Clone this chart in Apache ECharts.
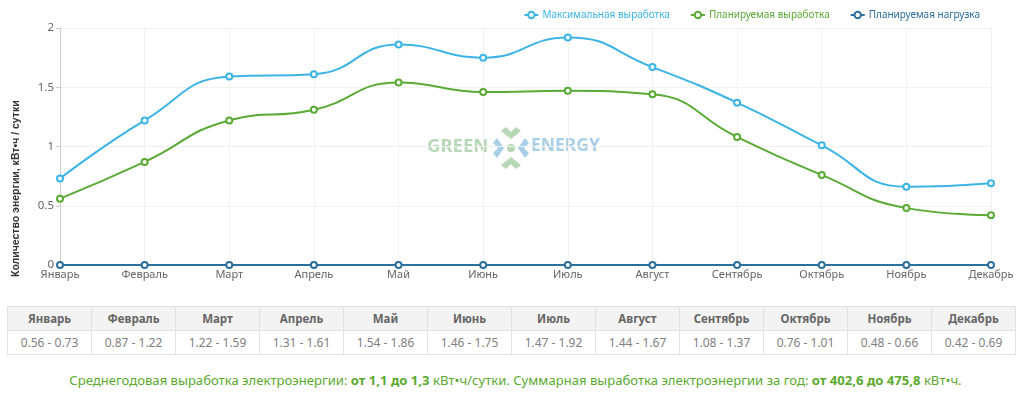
<!DOCTYPE html>
<html><head><meta charset="utf-8">
<script src="https://cdn.jsdelivr.net/npm/echarts@6/dist/echarts.min.js"></script>
<style>
html,body{margin:0;padding:0;background:#fff;width:1023px;height:395px;overflow:hidden;font-family:"Noto Sans",sans-serif;}
#chart{position:absolute;left:0;top:0;width:1023px;height:300px;}
#tbl{position:absolute;left:7px;top:306px;width:1009px;border-collapse:collapse;table-layout:fixed;}
#tbl td{border:1px solid #e2e2e2;text-align:center;font-size:12px;height:23px;padding:0;color:#808080;}
#tbl tr.h td{background:#f3f3f3;font-weight:bold;color:#666;font-size:11.5px;}
#note{position:absolute;left:4px;top:371px;width:1023px;text-align:center;color:#5aaa2e;font-size:13.1px;font-family:"Noto Sans",sans-serif;}
</style></head>
<body>
<div id="chart"></div>
<table id="tbl"></table>
<div id="note"></div>
<script>
const months = ["Январь","Февраль","Март","Апрель","Май","Июнь","Июль","Август","Сентябрь","Октябрь","Ноябрь","Декабрь"];
const maxOutput = [0.73,1.22,1.59,1.61,1.86,1.75,1.92,1.67,1.37,1.01,0.66,0.69];
const plannedOutput = [0.56,0.87,1.22,1.31,1.54,1.46,1.47,1.44,1.08,0.76,0.48,0.42];
const plannedLoad = [0,0,0,0,0,0,0,0,0,0,0,0];
const seriesNames = ["Максимальная выработка","Планируемая выработка","Планируемая нагрузка"];
const yTicks = [0,0.5,1,1.5,2];
const yAxisTitle = "Количество энергии, кВт•ч / сутки";
const noteText = "Среднегодовая выработка электроэнергии: <b>от 1,1 до 1,3</b> кВт•ч/сутки. Суммарная выработка электроэнергии за год: <b>от 402,6 до 475,8</b> кВт•ч.";

const colors = ["#3cb4e6","#5aaa36","#2d6f9c"];
const chart = echarts.init(document.getElementById('chart'));
const mk = (name, data, c) => ({
  name, type:'line', data, smooth:true, symbol:'emptyCircle', symbolSize:6,
  lineStyle:{width:2,color:c}, itemStyle:{color:c,borderWidth:2}, emphasis:{disabled:true}
});
const wmG = 'rgba(135,190,135,0.6)', wmB = 'rgba(110,175,215,0.6)';
chart.setOption({
  animation:false,
  color: colors,
  grid:{left:60,right:32,top:28,bottom:35,containLabel:false},
  legend:{
    right:38, top:5, itemWidth:14, itemHeight:8, itemGap:20,
    data: seriesNames.map((n,i)=>({name:n,textStyle:{color:colors[i]}})),
    textStyle:{fontSize:10,fontFamily:'"Noto Sans",sans-serif',padding:[0,0,0,-1]}
  },
  xAxis:{
    type:'category', data:months, boundaryGap:false,
    axisLine:{show:false}, axisTick:{show:false},
    axisLabel:{color:'#666',fontSize:11,margin:4,fontFamily:'"Noto Sans",sans-serif'},
    splitLine:{show:true,lineStyle:{color:'#f2f2f2'}}
  },
  yAxis:{
    type:'value', min:0, max:2, interval:0.5,
    axisLine:{show:true,lineStyle:{color:'#ccc'}},
    axisTick:{show:true,length:4,lineStyle:{color:'#ccc'}},
    axisLabel:{color:'#666',fontSize:11.5,margin:6,fontFamily:'"Noto Sans",sans-serif',
      formatter:v=>yTicks.includes(v)?String(v):''},
    splitLine:{show:true,lineStyle:{color:'#f2f2f2'}}
  },
  graphic:[
    {type:'text',x:11,y:277,rotation:Math.PI/2,
      style:{text:yAxisTitle,fill:'#333',font:'bold 10.5px "Liberation Sans Narrow", sans-serif'}},
    {type:'text',x:427,y:137,style:{text:'GREEN',fill:wmG,font:'bold 18.5px "Noto Sans", sans-serif'}},
    {type:'text',x:531,y:137,style:{text:'ENERGY',fill:wmB,font:'bold 17.5px "Noto Sans", sans-serif'}},
    {type:'circle',shape:{cx:511,cy:148,r:4},style:{fill:wmG}},
    {type:'polygon',shape:{points:[[501,131],[511,139],[521,131],[516,127],[511,132],[506,127]]},style:{fill:wmG}},
    {type:'polygon',shape:{points:[[501,165],[511,157],[521,165],[516,169],[511,164],[506,169]]},style:{fill:wmG}},
    {type:'polygon',shape:{points:[[497,138],[504,148],[497,158],[493,153],[498,148],[493,143]]},style:{fill:wmB}},
    {type:'polygon',shape:{points:[[525,138],[518,148],[525,158],[529,153],[524,148],[529,143]]},style:{fill:wmB}}
  ],
  series:[
    mk(seriesNames[0], maxOutput, colors[0]),
    mk(seriesNames[1], plannedOutput, colors[1]),
    mk(seriesNames[2], plannedLoad, colors[2])
  ]
});

const tbl = document.getElementById('tbl');
let h = '<tr class="h">' + months.map(m=>'<td>'+m+'</td>').join('') + '</tr>';
h += '<tr>' + months.map((m,i)=>'<td>'+plannedOutput[i].toFixed(2)+' - '+maxOutput[i].toFixed(2)+'</td>').join('') + '</tr>';
tbl.innerHTML = h;
document.getElementById('note').innerHTML = noteText;
</script>
</body></html>
